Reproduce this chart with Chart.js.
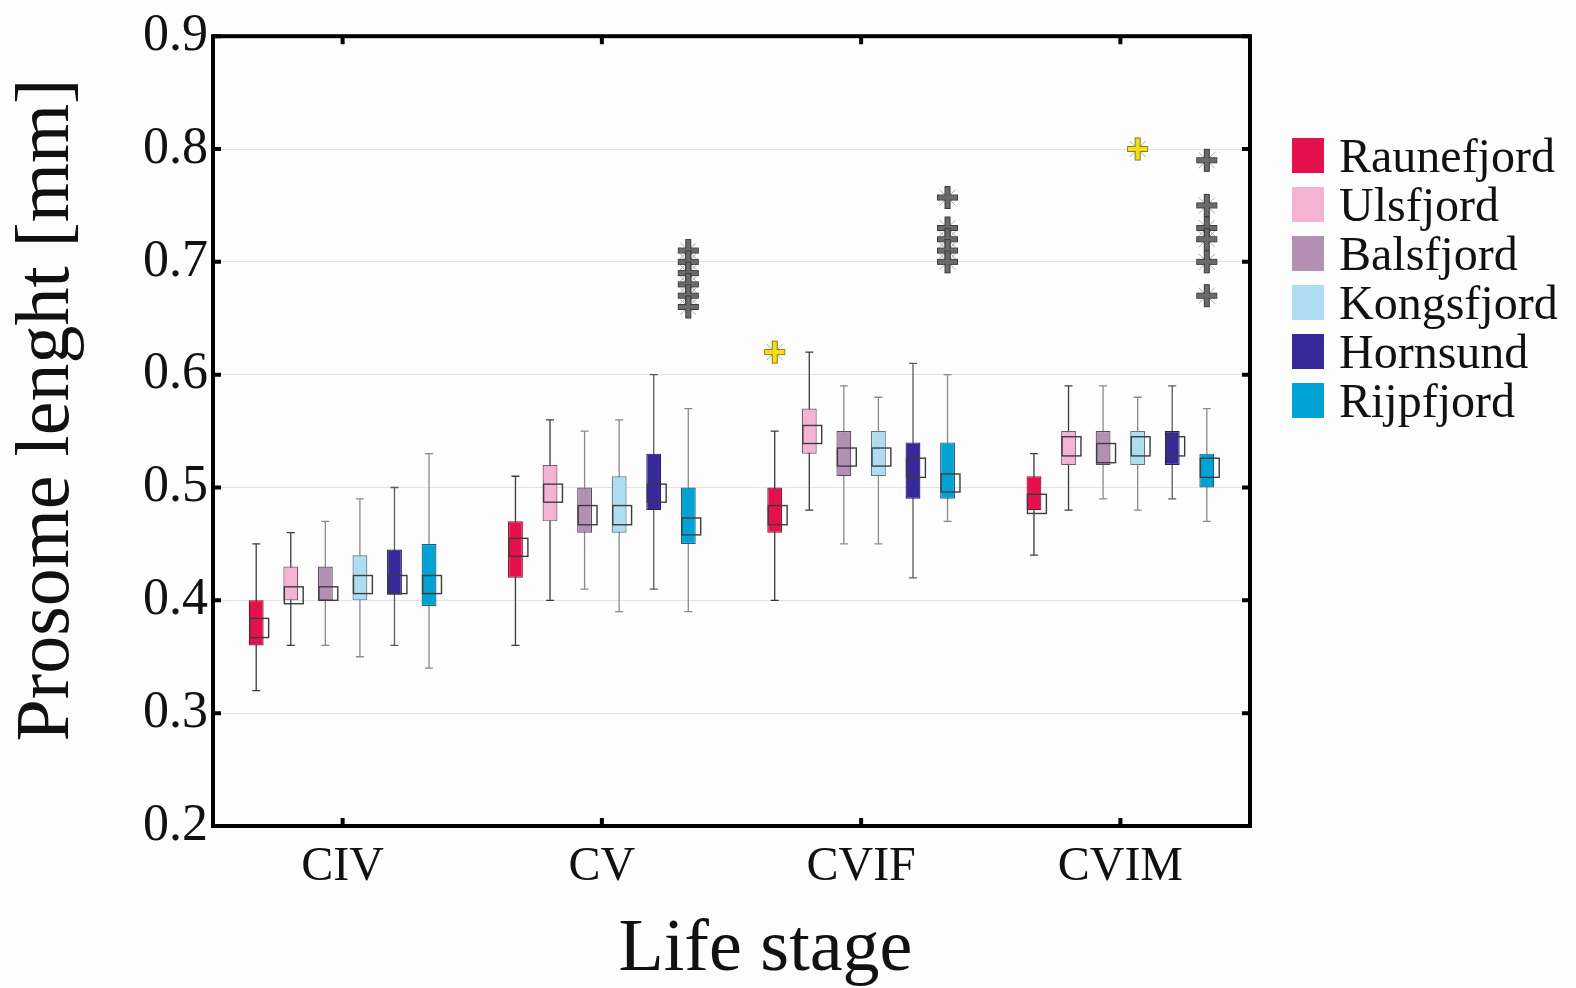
<!DOCTYPE html>
<html>
<head>
<meta charset="utf-8">
<script src="https://cdn.jsdelivr.net/npm/chart.js@4"></script>
<style>
    html, body { margin: 0; padding: 0; background: #fdfdfd; }
    #wrap { position: relative; width: 1576px; height: 988px; }
    #legend {
        position: absolute; left: 1292px; top: 131px;
        font-family: "Liberation Serif", serif; font-size: 48px; color: #111;
    }
    .item { display: flex; align-items: center; height: 49px; }
    .swatch { width: 32px; height: 35px; margin-right: 15px; }
</style>
</head>
<body>
<div id="wrap">
    <canvas id="chart"></canvas>
    <div id="legend"></div>
</div>
<script>
const stages = ['CIV', 'CV', 'CVIF', 'CVIM'];
const sites = ['Raunefjord', 'Ulsfjord', 'Balsfjord', 'Kongsfjord', 'Hornsund', 'Rijpfjord'];
const siteColors = ['#e5114c', '#f4b3d3', '#b48fb4', '#aedcf2', '#38299a', '#00a3d4'];
const siteBorders = ['#8c1030', '#7a5868', '#5e4a60', '#5a7888', '#231a60', '#1d5d78'];
const whiskerColors = ['#3a3a3a', '#3a3a3a', '#8a8a8a', '#8a8a8a', '#5a5a5a', '#8a8a8a'];

const xTitle = 'Life stage';
const yTitle = 'Prosome lenght [mm]';

// rows = sites, columns = stages
const q1 = [
    [0.36, 0.42, 0.46, 0.48],
    [0.40, 0.47, 0.53, 0.52],
    [0.40, 0.46, 0.51, 0.52],
    [0.40, 0.46, 0.51, 0.52],
    [0.405, 0.48, 0.49, 0.52],
    [0.395, 0.45, 0.49, 0.50]
];
const q3 = [
    [0.40, 0.47, 0.50, 0.51],
    [0.43, 0.52, 0.57, 0.55],
    [0.43, 0.50, 0.55, 0.55],
    [0.44, 0.51, 0.55, 0.55],
    [0.445, 0.53, 0.54, 0.55],
    [0.45, 0.50, 0.54, 0.53]
];
const whiskerLow = [
    [0.32, 0.36, 0.40, 0.44],
    [0.36, 0.40, 0.48, 0.48],
    [0.36, 0.41, 0.45, 0.49],
    [0.35, 0.39, 0.45, 0.48],
    [0.36, 0.41, 0.42, 0.49],
    [0.34, 0.39, 0.47, 0.47]
];
const whiskerHigh = [
    [0.45, 0.51, 0.55, 0.53],
    [0.46, 0.56, 0.62, 0.59],
    [0.47, 0.55, 0.59, 0.59],
    [0.49, 0.56, 0.58, 0.58],
    [0.50, 0.60, 0.61, 0.59],
    [0.53, 0.57, 0.60, 0.57]
];
// open square next to each box: [low, high]
const meanLow = [
    [0.367, 0.439, 0.467, 0.477],
    [0.397, 0.487, 0.539, 0.528],
    [0.400, 0.467, 0.519, 0.522],
    [0.406, 0.467, 0.519, 0.528],
    [0.406, 0.487, 0.509, 0.528],
    [0.406, 0.458, 0.496, 0.509]
];
const meanHigh = [
    [0.384, 0.455, 0.484, 0.494],
    [0.412, 0.503, 0.555, 0.545],
    [0.412, 0.484, 0.535, 0.539],
    [0.422, 0.484, 0.535, 0.545],
    [0.422, 0.503, 0.526, 0.545],
    [0.422, 0.473, 0.512, 0.526]
];

const outlierSets = [
    { site: 'Rijpfjord', stage: 'CV', values: [0.71, 0.70, 0.69, 0.68, 0.67, 0.66], extreme: false },
    { site: 'Raunefjord', stage: 'CVIF', values: [0.62], extreme: true },
    { site: 'Rijpfjord', stage: 'CVIF', values: [0.757, 0.73, 0.72, 0.71, 0.70], extreme: false },
    { site: 'Kongsfjord', stage: 'CVIM', values: [0.80], extreme: true },
    { site: 'Rijpfjord', stage: 'CVIM', values: [0.79, 0.75, 0.73, 0.72, 0.70, 0.67], extreme: false }
];

const yTicks = [0.2, 0.3, 0.4, 0.5, 0.6, 0.7, 0.8, 0.9];

function drawMarker(ctx, x, y, extreme) {
    ctx.save();
    ctx.strokeStyle = '#aaa';
    ctx.lineWidth = 1;
    ctx.beginPath();
    ctx.moveTo(x - 8, y - 8); ctx.lineTo(x + 8, y + 8);
    ctx.moveTo(x + 8, y - 8); ctx.lineTo(x - 8, y + 8);
    ctx.stroke();
    ctx.fillStyle = extreme ? '#f2df1c' : '#6a6a6a';
    ctx.strokeStyle = extreme ? '#8a7a10' : '#3a3a3a';
    ctx.lineWidth = 1;
    ctx.fillRect(x - 10, y - 2.5, 20, 5);
    ctx.strokeRect(x - 10, y - 2.5, 20, 5);
    ctx.fillRect(x - 2.5, y - 11, 5, 22);
    ctx.strokeRect(x - 2.5, y - 11, 5, 22);
    ctx.fillRect(x - 9.5, y - 2, 19, 4);
    ctx.restore();
}

const boxExtras = {
    id: 'boxExtras',
    beforeDatasetsDraw(chart) {
        const ctx = chart.ctx;
        const y = chart.scales.y;
        chart.data.datasets.forEach((ds, si) => {
            chart.getDatasetMeta(si).data.forEach((bar, ci) => {
                const top = y.getPixelForValue(whiskerHigh[si][ci]);
                const bottom = y.getPixelForValue(whiskerLow[si][ci]);
                ctx.save();
                ctx.strokeStyle = whiskerColors[si];
                ctx.lineWidth = 1.3;
                ctx.beginPath();
                ctx.moveTo(bar.x, top); ctx.lineTo(bar.x, bottom);
                ctx.moveTo(bar.x - 4, top); ctx.lineTo(bar.x + 4, top);
                ctx.moveTo(bar.x - 4, bottom); ctx.lineTo(bar.x + 4, bottom);
                ctx.stroke();
                ctx.restore();
            });
        });
    },
    afterDatasetsDraw(chart) {
        const ctx = chart.ctx;
        const y = chart.scales.y;
        chart.data.datasets.forEach((ds, si) => {
            chart.getDatasetMeta(si).data.forEach((bar, ci) => {
                const hi = y.getPixelForValue(meanHigh[si][ci]);
                const lo = y.getPixelForValue(meanLow[si][ci]);
                const left = bar.x - bar.width / 2 + 1;
                ctx.save();
                ctx.strokeStyle = '#3c3c3c';
                ctx.lineWidth = 1.4;
                ctx.strokeRect(left, hi, bar.width + 4, lo - hi);
                ctx.restore();
            });
        });
        outlierSets.forEach(set => {
            const si = sites.indexOf(set.site);
            const ci = stages.indexOf(set.stage);
            const bar = chart.getDatasetMeta(si).data[ci];
            set.values.forEach(v => drawMarker(ctx, bar.x, y.getPixelForValue(v), set.extreme));
        });
    },
    afterDraw(chart) {
        const ctx = chart.ctx;
        const area = chart.chartArea;
        const x = chart.scales.x;
        const y = chart.scales.y;
        ctx.save();
        ctx.strokeStyle = '#000';
        ctx.lineWidth = 4;
        ctx.strokeRect(area.left, area.top, area.right - area.left, area.bottom - area.top);
        ctx.beginPath();
        yTicks.forEach(v => {
            const py = y.getPixelForValue(v);
            ctx.moveTo(area.left, py); ctx.lineTo(area.left + 8, py);
            ctx.moveTo(area.right, py); ctx.lineTo(area.right - 8, py);
        });
        stages.forEach((s, i) => {
            const px = x.getPixelForValue(i);
            ctx.moveTo(px, area.top); ctx.lineTo(px, area.top + 8);
            ctx.moveTo(px, area.bottom); ctx.lineTo(px, area.bottom - 8);
        });
        ctx.stroke();

        // axis titles, placed like the original figure
        ctx.fillStyle = '#111';
        ctx.textAlign = 'center';
        ctx.textBaseline = 'alphabetic';
        ctx.font = '74px "Liberation Serif"';
        ctx.fillText(xTitle, (area.left + area.right) / 2 + 34, 970);

        ctx.translate(68, 410);
        ctx.rotate(-Math.PI / 2);
        ctx.font = '76px "Liberation Serif"';
        ctx.fillText(yTitle, 0, 0);
        ctx.restore();
    }
};

const datasets = sites.map((site, si) => ({
    label: site,
    data: stages.map((s, ci) => [q1[si][ci], q3[si][ci]]),
    backgroundColor: siteColors[si],
    borderColor: siteBorders[si],
    borderWidth: 1.2,
    borderSkipped: false,
    categoryPercentage: 0.8,
    barPercentage: 0.43
}));

new Chart(document.getElementById('chart'), {
    type: 'bar',
    data: { labels: stages, datasets: datasets },
    options: {
        responsive: true,
        maintainAspectRatio: false,
        animation: false,
        layout: { padding: { top: 35, right: 326, left: 0, bottom: 0 } },
        plugins: {
            legend: { display: false },
            tooltip: { enabled: false }
        },
        scales: {
            x: {
                grid: { display: false },
                border: { display: false },
                ticks: {
                    color: '#111',
                    padding: 5,
                    font: { family: 'Liberation Serif', size: 48 }
                },
                title: { display: false, text: xTitle },
                afterFit: scale => { scale.height = 162; }
            },
            y: {
                min: 0.2,
                max: 0.9,
                grid: { color: '#e2e2e2', lineWidth: 1, drawTicks: false },
                border: { display: false },
                ticks: {
                    stepSize: 0.1,
                    color: '#111',
                    padding: 5,
                    font: { family: 'Liberation Serif', size: 52 },
                    callback: v => v.toFixed(1)
                },
                title: { display: false, text: yTitle },
                afterFit: scale => { scale.width = 213; }
            }
        }
    },
    plugins: [boxExtras]
});

const legendBox = document.getElementById('legend');
sites.forEach((site, si) => {
    const row = document.createElement('div');
    row.className = 'item';
    const sw = document.createElement('span');
    sw.className = 'swatch';
    sw.style.background = siteColors[si];
    const label = document.createElement('span');
    label.textContent = site;
    row.appendChild(sw);
    row.appendChild(label);
    legendBox.appendChild(row);
});
</script>
</body>
</html>
